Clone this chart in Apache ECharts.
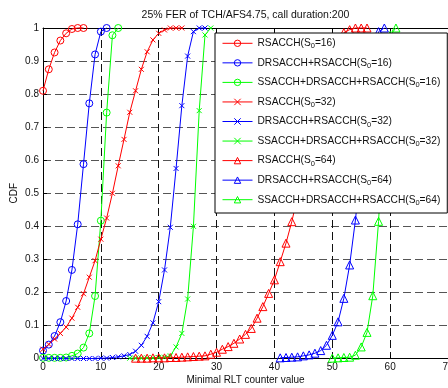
<!DOCTYPE html>
<html><head><meta charset="utf-8">
<script src="https://cdn.jsdelivr.net/npm/echarts@6/dist/echarts.min.js"></script>
<style>html,body{margin:0;padding:0;background:#fff}#c{width:448px;height:388px}</style>
</head><body><div id="c"></div>
<script>
const titleText = '25% FER of TCH/AFS4.75, call duration:200';
const xAxisName = 'Minimal RLT counter value';
const yAxisName = 'CDF';
const xRange = [0, 70, 10];   // min, max, interval
const yRange = [0, 1, 0.1];

const seriesNames = [
  'RSACCH(S0=16)', 'DRSACCH+RSACCH(S0=16)', 'SSACCH+DRSACCH+RSACCH(S0=16)',
  'RSACCH(S0=32)', 'DRSACCH+RSACCH(S0=32)', 'SSACCH+DRSACCH+RSACCH(S0=32)',
  'RSACCH(S0=64)', 'DRSACCH+RSACCH(S0=64)', 'SSACCH+DRSACCH+RSACCH(S0=64)'
];
// first counter value of each series (values follow at consecutive integers)
const firstX = [0, 0, 0, 0, 0, 15, 16, 41, 50];

const rs16   = [0.81,0.875,0.926,0.962,0.984,0.997,1,1];
const drs16  = [0.024,0.042,0.068,0.11,0.174,0.268,0.406,0.588,0.772,0.92,0.989,1];
const sdrs16 = [0.002,0.002,0.002,0.002,0.003,0.008,0.015,0.033,0.076,0.189,0.417,0.744,0.978,1];
const rs32   = [0.028,0.043,0.059,0.076,0.095,0.122,0.155,0.196,0.246,0.296,0.361,0.425,0.5,0.583,0.663,0.745,0.81,0.875,0.928,0.964,0.984,0.994,1,1,1];
const drs32  = [0,0,0,0,0,0,0,0,0,0,0.001,0.001,0.003,0.005,0.008,0.012,0.022,0.04,0.067,0.108,0.172,0.268,0.397,0.575,0.765,0.915,0.989,1,1];
const sdrs32 = [0.001,0.001,0.001,0.002,0.002,0.003,0.004,0.008,0.035,0.076,0.18,0.4,0.75,0.979,1];
const rs64   = [0.001,0.001,0.001,0.002,0.002,0.002,0.003,0.003,0.004,0.005,0.006,0.007,0.008,0.013,0.019,0.028,0.036,0.046,0.059,0.073,0.091,0.122,0.157,0.197,0.238,0.293,0.349,0.414,0.49,0.57,0.65,0.73,0.8,0.865,0.92,0.96,0.986,0.995,1,1,1];
const drs64  = [0.002,0.003,0.004,0.005,0.008,0.011,0.016,0.024,0.04,0.07,0.111,0.182,0.283,0.419,0.59,0.77,0.92,0.989,1];
const sdrs64 = [0.001,0.002,0.003,0.004,0.01,0.035,0.079,0.19,0.415,0.745,0.978,1];

const seriesValues = [rs16, drs16, sdrs16, rs32, drs32, sdrs32, rs64, drs64, sdrs64];
const seriesColors = ['#ff0000','#0000ff','#00ff00','#ff0000','#0000ff','#00ff00','#ff0000','#0000ff','#00ff00'];
const seriesSymbols = ['circle','circle','circle','path://M0,0L10,10M10,0L0,10','path://M0,0L10,10M10,0L0,10','path://M0,0L10,10M10,0L0,10','triangle','triangle','triangle'];
const seriesSymbolSizes = [7,7,7,5,5,5,8,8,8];

const FONT = '"Liberation Sans", Arial, Helvetica, sans-serif';
const chart = echarts.init(document.getElementById('c'), null, {renderer: 'canvas'});

const series = seriesNames.map((name, i) => ({
  name: name,
  type: 'line',
  data: seriesValues[i].map((v, k) => [firstX[i] + k, v]),
  symbol: seriesSymbols[i],
  symbolSize: seriesSymbolSizes[i],
  showAllSymbol: true,
  lineStyle: {color: seriesColors[i], width: 1},
  itemStyle: {color: 'transparent', borderColor: seriesColors[i], borderWidth: 1},
  emphasis: {disabled: true},
  animation: false,
  clip: false,
  z: 2
}));

chart.setOption({
  animation: false,
  backgroundColor: '#fff',
  title: {
    text: titleText,
    left: 245.5, top: 10, textAlign: 'center', padding: 0,
    textStyle: {fontSize: 10.5, fontWeight: 'normal', color: '#111', fontFamily: FONT}
  },
  grid: {left: 43, top: 28, right: 0, bottom: 29.5, containLabel: false, outerBoundsMode: 'none'},
  legend: {
    orient: 'vertical', left: 215, top: 33,
    itemWidth: 30, itemHeight: 8, itemGap: 7.55,
    padding: [5.3, 7, 6.3, 7],
    backgroundColor: '#fff', borderColor: '#000', borderWidth: 1, borderRadius: 0,
    selectedMode: false,
    data: seriesNames,
    lineStyle: {width: 1},
    itemStyle: {borderWidth: 1},
    formatter: n => n.replace('S0=', 'S{sub|0}='),
    textStyle: {
      fontSize: 10.2, color: '#111', fontFamily: FONT,
      rich: {sub: {fontSize: 7.5, color: '#111', fontFamily: FONT, padding: [6, 0, 0, 0]}}
    },
    z: 10
  },
  xAxis: [{
    type: 'value', position: 'bottom',
    min: xRange[0], max: xRange[1], interval: xRange[2],
    name: xAxisName, nameLocation: 'middle', nameGap: 17, nameMoveOverlap: false,
    nameTextStyle: {fontSize: 10, color: '#111', fontFamily: FONT},
    axisLine: {show: true, onZero: false, lineStyle: {color: '#000', width: 1}},
    axisTick: {show: true, inside: true, length: 4, lineStyle: {color: '#000'}},
    axisLabel: {fontSize: 10, color: '#111', fontFamily: FONT, margin: 4},
    splitLine: {show: true, lineStyle: {color: '#111', width: 1, type: [8, 4]}}
  }, {
    type: 'value', position: 'top',
    min: xRange[0], max: xRange[1], interval: xRange[2],
    axisLine: {show: true, onZero: false, lineStyle: {color: '#000', width: 1}},
    axisTick: {show: true, inside: true, length: 4, lineStyle: {color: '#000'}},
    axisLabel: {show: false}, splitLine: {show: false}
  }],
  yAxis: [{
    type: 'value', position: 'left',
    min: yRange[0], max: yRange[1], interval: yRange[2],
    name: yAxisName, nameLocation: 'middle', nameGap: 24, nameMoveOverlap: false,
    nameTextStyle: {fontSize: 10, color: '#111', fontFamily: FONT},
    axisLine: {show: true, onZero: false, lineStyle: {color: '#000', width: 1}},
    axisTick: {show: true, inside: true, length: 4, lineStyle: {color: '#000'}},
    axisLabel: {fontSize: 10, color: '#111', fontFamily: FONT, margin: 4},
    splitLine: {show: true, lineStyle: {color: '#555', width: 1, type: [8, 4]}}
  }],
  series: series
});
</script>
</body></html>
